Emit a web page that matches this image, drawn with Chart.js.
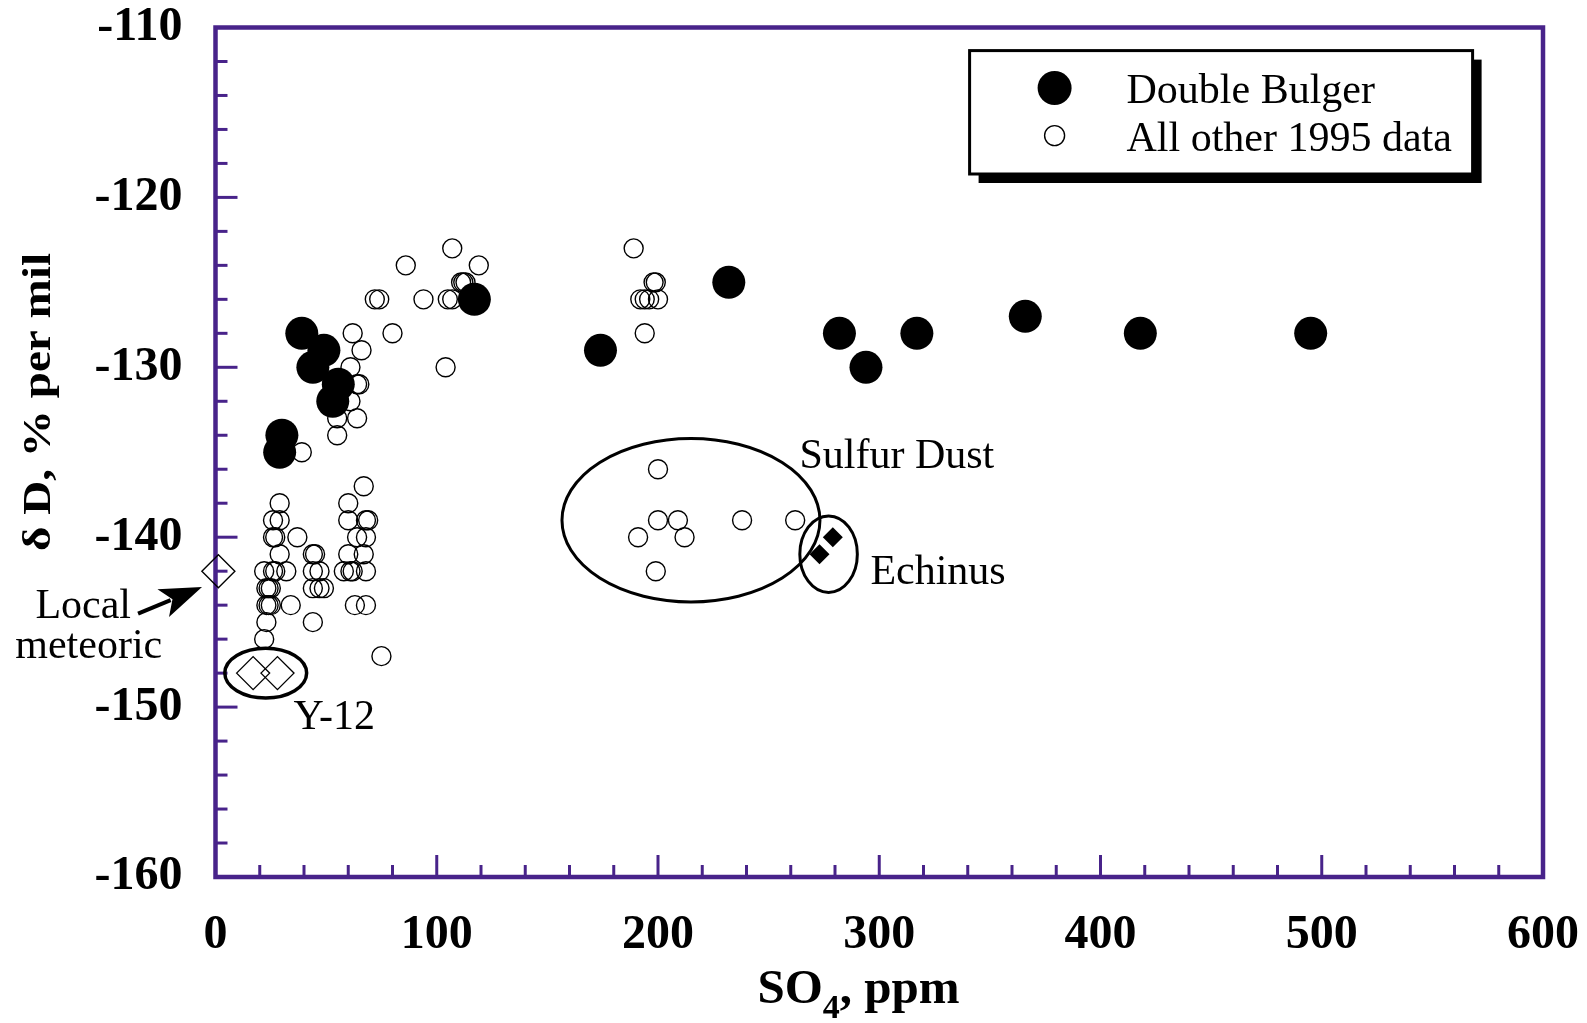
<!DOCTYPE html>
<html>
<head>
<meta charset="utf-8">
<script src="https://cdn.jsdelivr.net/npm/chart.js@4.4.0/dist/chart.umd.min.js"></script>
<style>
  html, body { margin: 0; padding: 0; background: #fff; }
</style>
</head>
<body>
<canvas id="chart" width="1587" height="1023"></canvas>
<script>
// Double Bulger samples (SO4 ppm, delta D per mil)
const bulgerSO4 = [39, 49, 44, 55.5, 53, 30, 29, 117, 174, 232, 282, 294, 317, 366, 418, 495];
const bulgerDD  = [-128, -129, -130, -131, -132, -134, -135, -126, -129, -125, -128, -130, -128, -127, -128, -128];

// everything else sampled in 1995
const otherSO4 = [
  107, 86, 119, 111, 112, 113, 72, 74, 94, 105, 107, 62, 80, 66, 104, 61, 64, 65, 61, 64, 55, 55, 39,
  67,
  29, 60,
  26, 29, 60, 68, 69,
  26, 27, 37, 64, 68,
  29, 44, 45, 60, 67,
  22, 26, 27, 32, 44, 47, 58, 61, 62, 68,
  23, 24, 25, 44, 47, 49,
  23, 24, 25, 34, 63, 68,
  23, 44,
  22,
  75,
  189, 198, 199, 192, 194, 196, 200, 194,
  200, 200, 209, 238, 262, 191, 212, 199
];
const otherDD = [
  -123, -124, -124, -125, -125, -125, -126, -126, -126, -126, -126, -128, -128, -129, -130, -130, -131, -131, -132, -133, -133, -134, -135,
  -137,
  -138, -138,
  -139, -139, -139, -139, -139,
  -140, -140, -140, -140, -140,
  -141, -141, -141, -141, -141,
  -142, -142, -142, -142, -142, -142, -142, -142, -142, -142,
  -143, -143, -143, -143, -143, -143,
  -144, -144, -144, -144, -144, -144,
  -145, -145,
  -146,
  -147,
  -123, -125, -125, -126, -126, -126, -126, -128,
  -136, -139, -139, -139, -139, -140, -140, -142
];

const y12SO4 = [17, 28];
const y12DD  = [-148, -148];
const meteoricSO4 = [1.3];
const meteoricDD  = [-142];
const echinusSO4 = [279, 273];
const echinusDD  = [-140, -141];

// outlined groups and their captions, in data units
const groups = [
  { cx: 22.7, cy: -148, rx: 18.5, ry: 1.47, lw: 3.5 },
  { cx: 214.9, cy: -139, rx: 58.3, ry: 4.81, lw: 3 },
  { cx: 277.1, cy: -141, rx: 13, ry: 2.25, lw: 3 }
];
const notes = [
  { text: 'Sulfur Dust', x: 263.9, y: -135.93 },
  { text: 'Echinus', x: 296, y: -142.75 },
  { text: 'Y-12', x: 35.2, y: -151.29 },
  { text: 'Local', x: -81.4, y: -144.75 },
  { text: 'meteoric', x: -90.5, y: -147.1 }
];
const arrowFrom = { x: -35, y: -144.5 };
const arrowTo = { x: -6.1, y: -142.93 };

const PURPLE = '#48238a';
const SERIF = "'Liberation Serif', 'Times New Roman', serif";

const pts = (xs, ys) => xs.map((x, i) => ({ x, y: ys[i] }));

const decor = {
  id: 'decor',
  beforeDatasetsDraw(chart) {
    const { ctx, chartArea: a, scales: { x, y } } = chart;
    ctx.save();
    ctx.strokeStyle = PURPLE;
    ctx.lineWidth = 3;
    // inward ticks: minor every 20 ppm / 2 per mil, long ones on the labelled values
    const nx = Math.round((x.max - x.min) / 20);
    for (let i = 1; i < nx; i++) {
      const px = x.getPixelForValue(x.min + i * 20);
      const len = i % 5 === 0 ? 22 : 12;
      ctx.beginPath();
      ctx.moveTo(px, a.bottom);
      ctx.lineTo(px, a.bottom - len);
      ctx.stroke();
    }
    const ny = Math.round((y.max - y.min) / 2);
    for (let i = 1; i < ny; i++) {
      const py = y.getPixelForValue(y.min + i * 2);
      const len = i % 5 === 0 ? 22 : 12;
      ctx.beginPath();
      ctx.moveTo(a.left, py);
      ctx.lineTo(a.left + len, py);
      ctx.stroke();
    }
    ctx.lineWidth = 4.5;
    ctx.strokeRect(a.left, a.top, a.right - a.left, a.bottom - a.top);
    ctx.restore();
  },
  afterDatasetsDraw(chart) {
    const { ctx, scales: { x, y } } = chart;
    ctx.save();
    ctx.strokeStyle = '#000';
    ctx.fillStyle = '#000';

    groups.forEach(g => {
      const cx = x.getPixelForValue(g.cx), cy = y.getPixelForValue(g.cy);
      const rx = x.getPixelForValue(g.cx + g.rx) - cx;
      const ry = cy - y.getPixelForValue(g.cy + g.ry);
      ctx.lineWidth = g.lw;
      ctx.beginPath();
      ctx.ellipse(cx, cy, rx, ry, 0, 0, Math.PI * 2);
      ctx.stroke();
    });

    ctx.font = '42px ' + SERIF;
    ctx.textAlign = 'left';
    ctx.textBaseline = 'alphabetic';
    notes.forEach(n => ctx.fillText(n.text, x.getPixelForValue(n.x), y.getPixelForValue(n.y)));

    // arrow to the local meteoric water point
    const x0 = x.getPixelForValue(arrowFrom.x), y0 = y.getPixelForValue(arrowFrom.y);
    const x1 = x.getPixelForValue(arrowTo.x), y1 = y.getPixelForValue(arrowTo.y);
    const ang = Math.atan2(y1 - y0, x1 - x0);
    const head = 42, half = 15;
    const bx = x1 - head * Math.cos(ang), by = y1 - head * Math.sin(ang);
    ctx.lineWidth = 4;
    ctx.beginPath();
    ctx.moveTo(x0, y0);
    ctx.lineTo(bx + 8 * Math.cos(ang), by + 8 * Math.sin(ang));
    ctx.stroke();
    ctx.beginPath();
    ctx.moveTo(x1, y1);
    ctx.lineTo(bx + half * Math.sin(ang), by - half * Math.cos(ang));
    ctx.lineTo(bx + 10 * Math.cos(ang), by + 10 * Math.sin(ang));
    ctx.lineTo(bx - half * Math.sin(ang), by + half * Math.cos(ang));
    ctx.closePath();
    ctx.fill();

    // legend box with drop shadow
    const lx = 969.6, ly = 50.6, lw = 503, lh = 123.4;
    ctx.fillRect(lx + 9, ly + 9, lw, lh);
    ctx.fillStyle = '#fff';
    ctx.fillRect(lx, ly, lw, lh);
    ctx.lineWidth = 3;
    ctx.strokeRect(lx, ly, lw, lh);
    const rows = [{ ds: chart.data.datasets[0], cy: 88, r: 17 }, { ds: chart.data.datasets[1], cy: 135.6, r: 10 }];
    rows.forEach(row => {
      ctx.fillStyle = row.ds.backgroundColor;
      ctx.strokeStyle = row.ds.borderColor;
      ctx.lineWidth = row.ds.borderWidth;
      Chart.helpers.drawPoint(ctx, { pointStyle: row.ds.pointStyle, radius: row.r, borderWidth: row.ds.borderWidth, rotation: 0 }, 1054.6, row.cy);
      ctx.fillStyle = '#000';
      ctx.font = '42px ' + SERIF;
      ctx.fillText(row.ds.label, 1126.5, row.cy + 15);
    });

    // x axis title with subscript
    const big = 'bold 49px ' + SERIF, small = 'bold 34px ' + SERIF;
    ctx.font = big;
    const wSO = ctx.measureText('SO').width, wRest = ctx.measureText(', ppm').width;
    ctx.font = small;
    const w4 = ctx.measureText('4').width;
    let tx = 858.5 - (wSO + w4 + wRest) / 2;
    ctx.font = big;
    ctx.fillText('SO', tx, 1002.7);
    tx += wSO;
    ctx.font = small;
    ctx.fillText('4', tx, 1017.5);
    tx += w4;
    ctx.font = big;
    ctx.fillText(', ppm', tx, 1002.7);

    // y axis title, rotated and stretched along its length
    ctx.font = 'bold 39px ' + SERIF;
    const yt = 'δ D, % per mil';
    const sx = 298 / ctx.measureText(yt).width;
    ctx.translate(50, 402);
    ctx.rotate(-Math.PI / 2);
    ctx.scale(sx, 1);
    ctx.textAlign = 'center';
    ctx.fillText(yt, 0, 0);
    ctx.restore();
  }
};

const tickFont = { family: SERIF, size: 48, weight: 'bold', lineHeight: 1 };

// fixed axis bands so the plot frame sits at the same place every time
const fixBand = (s, size) => {
  if (s.isHorizontal()) s.height = size; else s.width = size;
  s.paddingTop = s.paddingBottom = s.paddingLeft = s.paddingRight = 0;
};

new Chart(document.getElementById('chart'), {
  type: 'scatter',
  data: {
    datasets: [
      { label: 'Double Bulger', data: pts(bulgerSO4, bulgerDD), pointStyle: 'circle', pointRadius: 16.5,
        backgroundColor: '#000', borderColor: '#000', borderWidth: 0, clip: false },
      { label: 'All other 1995 data', data: pts(otherSO4, otherDD), pointStyle: 'circle', pointRadius: 9.5,
        backgroundColor: 'rgba(0,0,0,0)', borderColor: '#000', borderWidth: 1.4, clip: false },
      { label: 'Y-12', data: pts(y12SO4, y12DD), pointStyle: 'rectRot', pointRadius: 16.5,
        backgroundColor: 'rgba(0,0,0,0)', borderColor: '#000', borderWidth: 1.4, clip: false },
      { label: 'Local meteoric', data: pts(meteoricSO4, meteoricDD), pointStyle: 'rectRot', pointRadius: 16.5,
        backgroundColor: 'rgba(0,0,0,0)', borderColor: '#000', borderWidth: 1.4, clip: false },
      { label: 'Echinus', data: pts(echinusSO4, echinusDD), pointStyle: 'rectRot', pointRadius: 10,
        backgroundColor: '#000', borderColor: '#000', borderWidth: 0, clip: false }
    ]
  },
  options: {
    responsive: false,
    animation: false,
    events: [],
    layout: { padding: { top: 27.5, right: 44, left: 0, bottom: 0 } },
    plugins: { legend: { display: false }, tooltip: { enabled: false } },
    scales: {
      x: {
        type: 'linear', min: 0, max: 600,
        ticks: { stepSize: 100, padding: 35, color: '#000', font: tickFont, maxRotation: 0 },
        grid: { display: false, drawTicks: false },
        border: { display: false },
        afterFit: s => fixBand(s, 146)
      },
      y: {
        type: 'linear', min: -160, max: -110,
        ticks: { stepSize: 10, padding: 33, color: '#000', font: tickFont },
        grid: { display: false, drawTicks: false },
        border: { display: false },
        afterFit: s => fixBand(s, 215.5)
      }
    }
  },
  plugins: [decor]
});
</script>
</body>
</html>
